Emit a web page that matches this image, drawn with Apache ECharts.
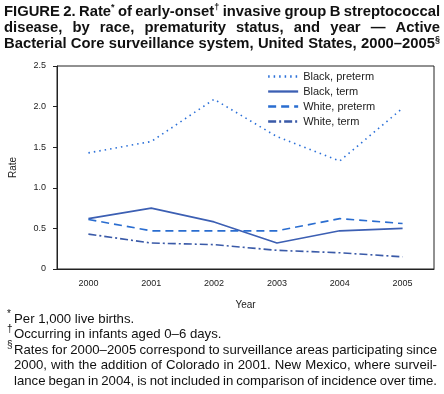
<!DOCTYPE html>
<html><head><meta charset="utf-8">
<script src="https://cdn.jsdelivr.net/npm/echarts@6/dist/echarts.min.js"></script>
<style>html,body{margin:0;padding:0;background:#fff}#c{width:444px;height:394px}</style>
</head><body><div id="c"></div>
<script>
const years = ['2000','2001','2002','2003','2004','2005'];
const seriesNames = ['Black, preterm','Black, term','White, preterm','White, term'];
const blackPreterm = [1.43, 1.57, 2.09, 1.63, 1.33, 1.98];
const blackTerm = [0.62, 0.75, 0.58, 0.32, 0.47, 0.50];
const whitePreterm = [0.61, 0.47, 0.47, 0.47, 0.62, 0.56];
const whiteTerm = [0.43, 0.32, 0.30, 0.23, 0.20, 0.15];
const yMin = 0, yMax = 2.5, yStep = 0.5;

const titleLines = [
  'FIGURE 2. Rate* of early-onset† invasive group B streptococcal',
  'disease, by race, prematurity status, and year — Active',
  'Bacterial Core surveillance system, United States, 2000–2005§'
];
const notes = [
  {sym:'*', lines:['Per 1,000 live births.'], justify:false},
  {sym:'†', lines:['Occurring in infants aged 0–6 days.'], justify:false},
  {sym:'§', lines:['Rates for 2000–2005 correspond to surveillance areas participating since',
                   '2000, with the addition of Colorado in 2001. New Mexico, where surveil-',
                   'lance began in 2004, is not included in comparison of incidence over time.'], justify:true}
];

const FONT = '"Liberation Sans", Arial, Helvetica, sans-serif';
const ctx = document.createElement('canvas').getContext('2d');
function measure(t, size, weight){ ctx.font = (weight||'normal')+' '+size+'px '+FONT; return ctx.measureText(t).width; }

const graphics = [];
function addText(x, y, t, size, weight){
  graphics.push({type:'text', x:x, y:y, silent:true,
    style:{text:t, font:(weight||'normal')+' '+size+'px '+FONT, fill:'#111', verticalAlign:'middle'}});
}
function wordParts(w){ const m = w.match(/^(.*?)([*†§]?)$/); return {base:m[1], sup:m[2]}; }
function wordWidth(w, size, weight, supSize){
  const p = wordParts(w); return measure(p.base, size, weight) + (p.sup ? measure(p.sup, supSize, weight) : 0);
}
function drawJustified(line, x0, x1, y, size, weight, supSize, justify){
  const words = line.split(' ');
  const ws = words.map(w => wordWidth(w, size, weight, supSize));
  const total = ws.reduce((a,b)=>a+b,0);
  let gap = measure(' ', size, weight);
  if (justify && words.length>1) gap = (x1 - x0 - total)/(words.length-1);
  let x = x0;
  words.forEach((w,i) => {
    const p = wordParts(w);
    addText(x, y, p.base, size, weight);
    if (p.sup) addText(x + measure(p.base, size, weight), y - 4, p.sup, supSize, weight);
    x += ws[i] + gap;
  });
}
function natural(l, size, weight, supSize, minGap){
  const ws = l.split(' ');
  return ws.map(w=>wordWidth(w,size,weight,supSize)).reduce((a,b)=>a+b,0) + (ws.length-1)*minGap;
}
// title
let tSize = 16;
while (natural(titleLines[0], tSize, 'bold', 9, 3.2) > 436 && tSize > 10) tSize -= 0.1;
titleLines.forEach((l,i) => drawJustified(l, 4, 440, 12 + i*16, tSize, 'bold', 9, true));

// footnotes
let fSize = 13.5;
while (natural(notes[2].lines[2], fSize, 'normal', 8, 2.8) > 423 && fSize > 9) fSize -= 0.1;
let ny = 319;
notes.forEach(n => {
  addText(7, ny - 5, n.sym, 10, 'normal');
  n.lines.forEach(l => {
    drawJustified(l, 14, 437, ny, fSize, 'normal', 8, n.justify);
    ny += 15.5;
  });
});

const chart = echarts.init(document.getElementById('c'), null, {renderer:'canvas'});
const colDot = '#2a6fd8', colSolid = '#3c5fb3', colDash = '#2a6dd0', colDashDot = '#3a5aa8';
function mk(name, data, color, type){
  return {name:name, type:'line', data:data, symbol:'none', showSymbol:false, silent:true,
    lineStyle:{color:color, width:1.6, type:type}, itemStyle:{color:color}};
}
chart.setOption({
  animation:false,
  textStyle:{fontFamily:FONT},
  grid:{left:54, right:10, top:66, bottom:125, show:true, borderColor:'#222', borderWidth:1},
  legend:{orient:'vertical', left:262, top:66, itemWidth:30, itemHeight:10, itemGap:4,
    itemStyle:{opacity:0}, lineStyle:{width:2.3},
    textStyle:{fontSize:11, color:'#222', fontFamily:FONT, padding:[0,0,0,0]},
    data:seriesNames},
  xAxis:{type:'category', data:years, boundaryGap:true, name:'Year', nameLocation:'middle', nameGap:31,
    nameTextStyle:{fontSize:10, color:'#222'},
    axisLine:{lineStyle:{color:'#222', width:1}},
    axisTick:{alignWithLabel:true, length:4, lineStyle:{color:'#222'}},
    axisLabel:{fontSize:9, color:'#222', margin:10}},
  yAxis:{type:'value', min:yMin, max:yMax, interval:yStep, name:'Rate', nameLocation:'middle', nameGap:39,
    nameTextStyle:{fontSize:10, color:'#222'},
    axisLine:{show:true, lineStyle:{color:'#222', width:1}},
    axisTick:{show:true, length:4, lineStyle:{color:'#222'}},
    splitLine:{show:false},
    axisLabel:{fontSize:9, color:'#222', margin:11, formatter:v => v===0 ? '0' : v.toFixed(1)}},
  series:[
    mk(seriesNames[0], blackPreterm, colDot, [1.5,4]),
    mk(seriesNames[1], blackTerm, colSolid, 'solid'),
    mk(seriesNames[2], whitePreterm, colDash, [8,5]),
    mk(seriesNames[3], whiteTerm, colDashDot, [8,3,2,3])
  ],
  graphic: graphics
});
</script></body></html>
